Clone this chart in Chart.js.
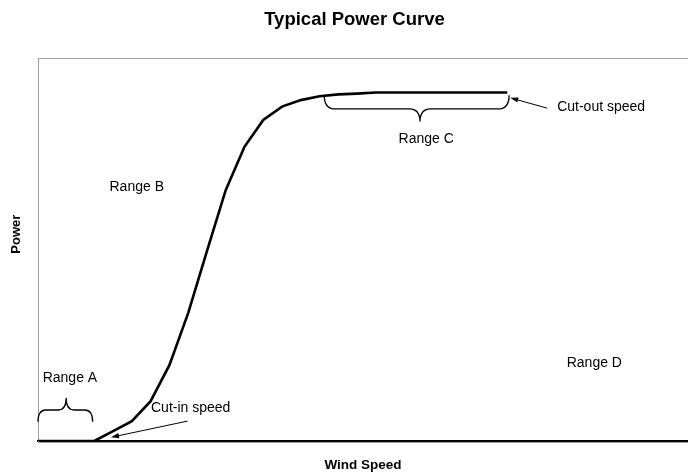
<!DOCTYPE html>
<html><head><meta charset="utf-8">
<script src="https://cdn.jsdelivr.net/npm/chart.js@4/dist/chart.umd.min.js"></script>
<style>html,body{margin:0;padding:0;background:#fff}#wrap{width:688px;height:473px}</style>
</head><body><div id="wrap"><canvas id="c" width="688" height="473"></canvas></div>
<script>
// ---- data ----
const windSpeed = [0,1,2,3,4,5,6,7,8,9,10,11,12,13,14,15,16,17,18,19,20,21,22,23,24,25];
const power     = [0,0,0,0,2.6,5.2,10.4,19.8,33.4,49.6,65.5,76.8,83.8,87.3,89.0,90.0,90.5,90.7,91,91,91,91,91,91,91,91];
const chartTitle = 'Typical Power Curve';
const xTitle = 'Wind Speed';
const yTitle = 'Power';
const rangeLabels = ['Range A','Range B','Range C','Range D'];
const rangeLabelX = [1.7, 5.26, 20.68, 29.64];
const rangeLabelY = [16.4, 66.4, 78.9, 20.4];
const speedLabels = ['Cut-in speed','Cut-out speed'];
const speedLabelX = [6.02, 27.66];
const speedLabelY = [8.6, 87.3];
const arrowFromX = [7.97, 27.13];
const arrowFromY = [5.2, 86.9];
const arrowToX = [3.89, 25.16];
const arrowToY = [0.97, 89.6];
const braceStartX = [0, 15.25];
const braceEndX = [2.91, 25.1];
const braceTipX = [1.5, 20.35];
const braceEndY = [5.0, 90.3];
const braceMidY = [8.1, 86.7];
const braceTipY = [11.2, 83.4];
const axisMaxX = 34.63;
const axisMaxY = 100;

const FONT = '"Liberation Sans", Arial, sans-serif';

const annotate = {
  id: 'annotate',
  beforeDatasetsDraw(chart) {
    const {ctx, chartArea: a} = chart;
    ctx.save();
    ctx.strokeStyle = '#a0a0a0';
    ctx.lineWidth = 1;
    ctx.beginPath();
    ctx.moveTo(a.left, a.top + 0.5);
    ctx.lineTo(a.right, a.top + 0.5);
    ctx.moveTo(a.left, a.bottom + 1.5);
    ctx.lineTo(a.right, a.bottom + 1.5);
    ctx.stroke();
    ctx.restore();
  },
  afterDatasetsDraw(chart) {
    const {ctx} = chart;
    const xs = chart.scales.x, ys = chart.scales.y;
    const px = v => xs.getPixelForValue(v), py = v => ys.getPixelForValue(v);
    ctx.save();
    ctx.fillStyle = '#000';
    ctx.strokeStyle = '#000';
    ctx.font = '14px ' + FONT;
    ctx.textBaseline = 'middle';
    ctx.textAlign = 'center';
    rangeLabels.forEach((t, i) => ctx.fillText(t, px(rangeLabelX[i]), py(rangeLabelY[i])));
    ctx.textAlign = 'left';
    speedLabels.forEach((t, i) => ctx.fillText(t, px(speedLabelX[i]), py(speedLabelY[i])));
    // arrows
    ctx.lineWidth = 1;
    arrowFromX.forEach((_, i) => {
      const x1 = px(arrowFromX[i]), y1 = py(arrowFromY[i]);
      const x2 = px(arrowToX[i]), y2 = py(arrowToY[i]);
      const ang = Math.atan2(y2 - y1, x2 - x1);
      const L = 8, W = 2.6;
      ctx.beginPath();
      ctx.moveTo(x1, y1);
      ctx.lineTo(x2 - Math.cos(ang) * L * 0.8, y2 - Math.sin(ang) * L * 0.8);
      ctx.stroke();
      ctx.beginPath();
      ctx.moveTo(x2, y2);
      ctx.lineTo(x2 - Math.cos(ang) * L - Math.sin(ang) * W, y2 - Math.sin(ang) * L + Math.cos(ang) * W);
      ctx.lineTo(x2 - Math.cos(ang) * L + Math.sin(ang) * W, y2 - Math.sin(ang) * L - Math.cos(ang) * W);
      ctx.closePath();
      ctx.fill();
    });
    // braces
    ctx.lineWidth = 1.3;
    braceStartX.forEach((_, i) => {
      const x1 = px(braceStartX[i]), x2 = px(braceEndX[i]), xt = px(braceTipX[i]);
      const ye = py(braceEndY[i]), ym = py(braceMidY[i]), yt = py(braceTipY[i]);
      const r = Math.min(11, (x2 - x1) / 7);
      ctx.beginPath();
      ctx.moveTo(x1, ye);
      ctx.quadraticCurveTo(x1, ym, x1 + r, ym);
      ctx.lineTo(xt - r, ym);
      ctx.quadraticCurveTo(xt, ym, xt, yt);
      ctx.quadraticCurveTo(xt, ym, xt + r, ym);
      ctx.lineTo(x2 - r, ym);
      ctx.quadraticCurveTo(x2, ym, x2, ye);
      ctx.stroke();
    });
    // y axis title
    ctx.font = 'bold 13px ' + FONT;
    ctx.textAlign = 'center';
    ctx.translate(chart.chartArea.left - 22, py(54));
    ctx.rotate(-Math.PI / 2);
    ctx.fillText(yTitle, 0, 0);
    ctx.restore();
  }
};

new Chart(document.getElementById('c'), {
  type: 'line',
  data: {
    datasets: [{
      data: windSpeed.map((w, i) => ({x: w, y: power[i]})),
      borderColor: '#000',
      borderWidth: 2.6,
      pointRadius: 0,
      tension: 0,
      fill: false
    }]
  },
  options: {
    responsive: false,
    animation: false,
    devicePixelRatio: 1,
    layout: {padding: {left: 21, right: 0, top: 0, bottom: 0}},
    plugins: {
      legend: {display: false},
      tooltip: {enabled: false},
      title: {
        display: true,
        text: chartTitle,
        color: '#000',
        font: {family: FONT, size: 18.5, weight: 'bold', lineHeight: 1.2},
        padding: {top: 9, bottom: 26.8}
      }
    },
    scales: {
      x: {
        type: 'linear',
        min: 0, max: axisMaxX,
        grid: {display: false, drawTicks: false},
        ticks: {display: false},
        border: {display: true, color: '#000', width: 2},
        title: {
          display: true, text: xTitle, color: '#000',
          font: {family: FONT, size: 13.5, weight: 'bold', lineHeight: 1.2},
          padding: {top: 15.8, bottom: 0}
        }
      },
      y: {
        min: 0, max: axisMaxY,
        grid: {display: false, drawTicks: false},
        ticks: {display: false},
        border: {display: true, color: '#a0a0a0', width: 1},
        afterFit(scale) { scale.width = 17; }
      }
    }
  },
  plugins: [annotate]
});
</script>
</body></html>
